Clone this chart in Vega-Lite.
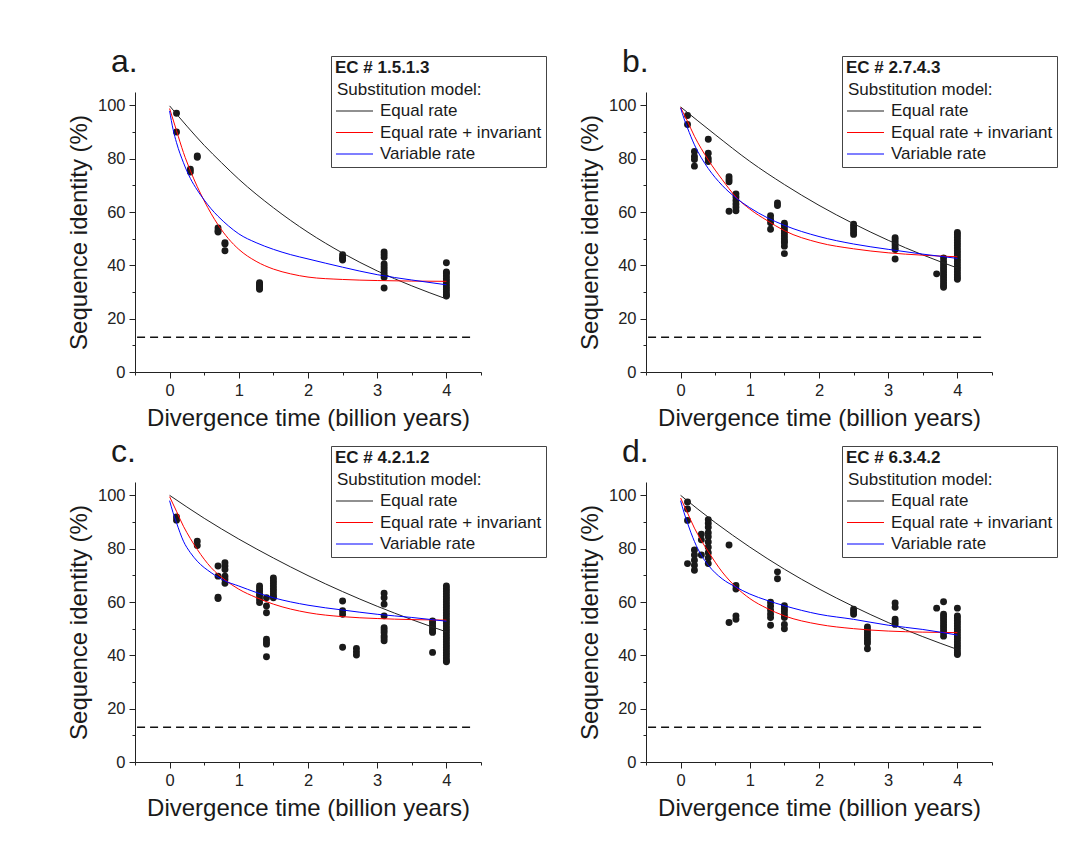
{
  "$schema": "https://vega.github.io/schema/vega-lite/v6.json",
  "padding": {"left": 67, "top": 45, "right": 5, "bottom": 5},
  "background": "white",
  "datasets": {
    "pts": [
      {"p":"a","t":0.1,"s":97},{"p":"a","t":0.1,"s":90},
      {"p":"a","t":0.3,"s":76},{"p":"a","t":0.3,"s":75},
      {"p":"a","t":0.4,"s":81},{"p":"a","t":0.4,"s":80.5},
      {"p":"a","t":0.7,"s":54},{"p":"a","t":0.7,"s":53},{"p":"a","t":0.7,"s":52.5},
      {"p":"a","t":0.8,"s":48.5},{"p":"a","t":0.8,"s":48},{"p":"a","t":0.8,"s":45.5},
      {"p":"a","t":1.3,"s":33.5},{"p":"a","t":1.3,"s":33},{"p":"a","t":1.3,"s":32.5},{"p":"a","t":1.3,"s":32},{"p":"a","t":1.3,"s":31.5},{"p":"a","t":1.3,"s":31},
      {"p":"a","t":2.5,"s":44},{"p":"a","t":2.5,"s":43},{"p":"a","t":2.5,"s":42.5},{"p":"a","t":2.5,"s":42},
      {"p":"a","t":3.1,"s":45},{"p":"a","t":3.1,"s":44},{"p":"a","t":3.1,"s":43},{"p":"a","t":3.1,"s":40.5},{"p":"a","t":3.1,"s":39.5},{"p":"a","t":3.1,"s":38.5},{"p":"a","t":3.1,"s":37.5},{"p":"a","t":3.1,"s":36.5},{"p":"a","t":3.1,"s":35.5},{"p":"a","t":3.1,"s":31.5},
      {"p":"a","t":4,"s":41},{"p":"a","t":4,"s":37.5},{"p":"a","t":4,"s":37},{"p":"a","t":4,"s":36},{"p":"a","t":4,"s":35},{"p":"a","t":4,"s":34},{"p":"a","t":4,"s":33},{"p":"a","t":4,"s":32},{"p":"a","t":4,"s":31},{"p":"a","t":4,"s":30},{"p":"a","t":4,"s":29},{"p":"a","t":4,"s":28.5},

      {"p":"b","t":0.1,"s":96.2},{"p":"b","t":0.1,"s":92.8},
      {"p":"b","t":0.2,"s":82.7},{"p":"b","t":0.2,"s":80.8},{"p":"b","t":0.2,"s":79.7},{"p":"b","t":0.2,"s":77.2},
      {"p":"b","t":0.4,"s":87.3},{"p":"b","t":0.4,"s":82},{"p":"b","t":0.4,"s":80.1},{"p":"b","t":0.4,"s":78.9},
      {"p":"b","t":0.7,"s":73.2},{"p":"b","t":0.7,"s":72.2},{"p":"b","t":0.7,"s":71.3},{"p":"b","t":0.7,"s":60.3},
      {"p":"b","t":0.8,"s":66.8},{"p":"b","t":0.8,"s":65.6},{"p":"b","t":0.8,"s":64.3},{"p":"b","t":0.8,"s":63},{"p":"b","t":0.8,"s":61.8},{"p":"b","t":0.8,"s":60.5},
      {"p":"b","t":1.3,"s":58.6},{"p":"b","t":1.3,"s":57.3},{"p":"b","t":1.3,"s":56},{"p":"b","t":1.3,"s":53.5},
      {"p":"b","t":1.4,"s":63.4},{"p":"b","t":1.4,"s":62.4},
      {"p":"b","t":1.5,"s":55.8},{"p":"b","t":1.5,"s":55},{"p":"b","t":1.5,"s":54},{"p":"b","t":1.5,"s":53},{"p":"b","t":1.5,"s":52},{"p":"b","t":1.5,"s":51},{"p":"b","t":1.5,"s":50},{"p":"b","t":1.5,"s":49},{"p":"b","t":1.5,"s":48.5},{"p":"b","t":1.5,"s":47.2},{"p":"b","t":1.5,"s":44.4},
      {"p":"b","t":2.5,"s":55.4},{"p":"b","t":2.5,"s":54.5},{"p":"b","t":2.5,"s":53.5},{"p":"b","t":2.5,"s":52.5},{"p":"b","t":2.5,"s":51.6},
      {"p":"b","t":3.1,"s":50.4},{"p":"b","t":3.1,"s":49.5},{"p":"b","t":3.1,"s":48.5},{"p":"b","t":3.1,"s":47.5},{"p":"b","t":3.1,"s":46.5},{"p":"b","t":3.1,"s":45.9},{"p":"b","t":3.1,"s":42.4},
      {"p":"b","t":3.7,"s":36.8},
      {"p":"b","t":3.8,"s":42.8},{"p":"b","t":3.8,"s":41.5},{"p":"b","t":3.8,"s":40.5},{"p":"b","t":3.8,"s":39.5},{"p":"b","t":3.8,"s":38.5},{"p":"b","t":3.8,"s":37.5},{"p":"b","t":3.8,"s":36.5},{"p":"b","t":3.8,"s":35.5},{"p":"b","t":3.8,"s":34.5},{"p":"b","t":3.8,"s":33.5},{"p":"b","t":3.8,"s":32.5},{"p":"b","t":3.8,"s":31.8},
      {"p":"b","t":4,"s":52.3},{"p":"b","t":4,"s":51.5},{"p":"b","t":4,"s":50.5},{"p":"b","t":4,"s":49.5},{"p":"b","t":4,"s":48.5},{"p":"b","t":4,"s":47.5},{"p":"b","t":4,"s":46.5},{"p":"b","t":4,"s":45.5},{"p":"b","t":4,"s":44.5},{"p":"b","t":4,"s":43.5},{"p":"b","t":4,"s":42.5},{"p":"b","t":4,"s":41.5},{"p":"b","t":4,"s":40.5},{"p":"b","t":4,"s":39.5},{"p":"b","t":4,"s":38.5},{"p":"b","t":4,"s":37.5},{"p":"b","t":4,"s":36.5},{"p":"b","t":4,"s":35.5},{"p":"b","t":4,"s":34.8},

      {"p":"c","t":0.1,"s":91.9},{"p":"c","t":0.1,"s":90.7},
      {"p":"c","t":0.4,"s":82.8},{"p":"c","t":0.4,"s":81.2},
      {"p":"c","t":0.7,"s":73.5},{"p":"c","t":0.7,"s":69.7},{"p":"c","t":0.7,"s":61.8},{"p":"c","t":0.7,"s":61.3},
      {"p":"c","t":0.8,"s":74.7},{"p":"c","t":0.8,"s":73.5},{"p":"c","t":0.8,"s":72.2},{"p":"c","t":0.8,"s":69.7},{"p":"c","t":0.8,"s":68.5},{"p":"c","t":0.8,"s":67},
      {"p":"c","t":1.3,"s":66},{"p":"c","t":1.3,"s":65},{"p":"c","t":1.3,"s":64.1},{"p":"c","t":1.3,"s":63},{"p":"c","t":1.3,"s":62.3},{"p":"c","t":1.3,"s":61},{"p":"c","t":1.3,"s":59.8},
      {"p":"c","t":1.4,"s":61.6},{"p":"c","t":1.4,"s":58.5},{"p":"c","t":1.4,"s":56},{"p":"c","t":1.4,"s":46},{"p":"c","t":1.4,"s":45},{"p":"c","t":1.4,"s":44.2},{"p":"c","t":1.4,"s":39.5},
      {"p":"c","t":1.5,"s":69},{"p":"c","t":1.5,"s":68},{"p":"c","t":1.5,"s":67},{"p":"c","t":1.5,"s":66},{"p":"c","t":1.5,"s":65},{"p":"c","t":1.5,"s":64},{"p":"c","t":1.5,"s":63},{"p":"c","t":1.5,"s":62},{"p":"c","t":1.5,"s":61.6},
      {"p":"c","t":2.5,"s":60.4},{"p":"c","t":2.5,"s":56.7},{"p":"c","t":2.5,"s":55.4},{"p":"c","t":2.5,"s":43},
      {"p":"c","t":2.7,"s":42.6},{"p":"c","t":2.7,"s":41.3},{"p":"c","t":2.7,"s":40.1},
      {"p":"c","t":3.1,"s":63.3},{"p":"c","t":3.1,"s":61.6},{"p":"c","t":3.1,"s":59.2},{"p":"c","t":3.1,"s":54.8},{"p":"c","t":3.1,"s":50.4},{"p":"c","t":3.1,"s":49.5},{"p":"c","t":3.1,"s":48.6},{"p":"c","t":3.1,"s":47.3},{"p":"c","t":3.1,"s":46.5},{"p":"c","t":3.1,"s":45.5},
      {"p":"c","t":3.8,"s":52.9},{"p":"c","t":3.8,"s":52},{"p":"c","t":3.8,"s":51},{"p":"c","t":3.8,"s":50},{"p":"c","t":3.8,"s":49},{"p":"c","t":3.8,"s":48.6},{"p":"c","t":3.8,"s":41.1},
      {"p":"c","t":4,"s":66},{"p":"c","t":4,"s":65},{"p":"c","t":4,"s":64},{"p":"c","t":4,"s":63},{"p":"c","t":4,"s":62},{"p":"c","t":4,"s":61},{"p":"c","t":4,"s":60},{"p":"c","t":4,"s":59},{"p":"c","t":4,"s":58},{"p":"c","t":4,"s":57},{"p":"c","t":4,"s":56},{"p":"c","t":4,"s":55},{"p":"c","t":4,"s":54},{"p":"c","t":4,"s":53},{"p":"c","t":4,"s":52},{"p":"c","t":4,"s":51},{"p":"c","t":4,"s":50},{"p":"c","t":4,"s":49},{"p":"c","t":4,"s":48},{"p":"c","t":4,"s":47},{"p":"c","t":4,"s":46},{"p":"c","t":4,"s":45},{"p":"c","t":4,"s":44},{"p":"c","t":4,"s":43},{"p":"c","t":4,"s":42},{"p":"c","t":4,"s":41},{"p":"c","t":4,"s":40},{"p":"c","t":4,"s":39},{"p":"c","t":4,"s":38},{"p":"c","t":4,"s":37.6},

      {"p":"d","t":0.1,"s":97.5},{"p":"d","t":0.1,"s":94.9},{"p":"d","t":0.1,"s":90.6},{"p":"d","t":0.1,"s":74.4},
      {"p":"d","t":0.2,"s":79.5},{"p":"d","t":0.2,"s":77.6},{"p":"d","t":0.2,"s":75.7},{"p":"d","t":0.2,"s":73.8},{"p":"d","t":0.2,"s":71.9},
      {"p":"d","t":0.3,"s":85.4},{"p":"d","t":0.3,"s":83.3},{"p":"d","t":0.3,"s":77.6},
      {"p":"d","t":0.4,"s":90.9},{"p":"d","t":0.4,"s":89.5},{"p":"d","t":0.4,"s":88},{"p":"d","t":0.4,"s":86},{"p":"d","t":0.4,"s":84.5},{"p":"d","t":0.4,"s":82.5},{"p":"d","t":0.4,"s":80.5},{"p":"d","t":0.4,"s":78.5},{"p":"d","t":0.4,"s":76.5},{"p":"d","t":0.4,"s":74.4},
      {"p":"d","t":0.7,"s":81.4},{"p":"d","t":0.7,"s":52.3},
      {"p":"d","t":0.8,"s":66.2},{"p":"d","t":0.8,"s":64.9},{"p":"d","t":0.8,"s":54.8},{"p":"d","t":0.8,"s":53.5},
      {"p":"d","t":1.3,"s":59.9},{"p":"d","t":1.3,"s":58.5},{"p":"d","t":1.3,"s":57},{"p":"d","t":1.3,"s":55.5},{"p":"d","t":1.3,"s":54.2},{"p":"d","t":1.3,"s":51.3},
      {"p":"d","t":1.4,"s":71.3},{"p":"d","t":1.4,"s":68.7},
      {"p":"d","t":1.5,"s":58.6},{"p":"d","t":1.5,"s":57.5},{"p":"d","t":1.5,"s":56.5},{"p":"d","t":1.5,"s":55.3},{"p":"d","t":1.5,"s":54.2},{"p":"d","t":1.5,"s":51.6},{"p":"d","t":1.5,"s":50},
      {"p":"d","t":2.5,"s":57.3},{"p":"d","t":2.5,"s":56.3},{"p":"d","t":2.5,"s":55.4},
      {"p":"d","t":2.7,"s":50.6},{"p":"d","t":2.7,"s":49.5},{"p":"d","t":2.7,"s":48.5},{"p":"d","t":2.7,"s":47.5},{"p":"d","t":2.7,"s":46.5},{"p":"d","t":2.7,"s":45.5},{"p":"d","t":2.7,"s":44.5},{"p":"d","t":2.7,"s":42.5},
      {"p":"d","t":3.1,"s":59.6},{"p":"d","t":3.1,"s":58},{"p":"d","t":3.1,"s":53.5},{"p":"d","t":3.1,"s":52.5},{"p":"d","t":3.1,"s":51.6},
      {"p":"d","t":3.7,"s":57.7},
      {"p":"d","t":3.8,"s":60.1},{"p":"d","t":3.8,"s":55.4},{"p":"d","t":3.8,"s":54.5},{"p":"d","t":3.8,"s":53.5},{"p":"d","t":3.8,"s":52.5},{"p":"d","t":3.8,"s":51.5},{"p":"d","t":3.8,"s":50.5},{"p":"d","t":3.8,"s":49.5},{"p":"d","t":3.8,"s":48.5},{"p":"d","t":3.8,"s":47.2},
      {"p":"d","t":4,"s":57.7},{"p":"d","t":4,"s":54.8},{"p":"d","t":4,"s":54},{"p":"d","t":4,"s":53},{"p":"d","t":4,"s":52},{"p":"d","t":4,"s":51},{"p":"d","t":4,"s":50},{"p":"d","t":4,"s":49},{"p":"d","t":4,"s":48},{"p":"d","t":4,"s":47},{"p":"d","t":4,"s":46},{"p":"d","t":4,"s":45},{"p":"d","t":4,"s":44},{"p":"d","t":4,"s":43},{"p":"d","t":4,"s":42},{"p":"d","t":4,"s":41},{"p":"d","t":4,"s":40.3}
    ],
    "curves": [
      {"p":"a","m":"Equal rate","t":0,"s":99.8},{"p":"a","m":"Equal rate","t":0.25,"s":92.2},{"p":"a","m":"Equal rate","t":0.5,"s":85},{"p":"a","m":"Equal rate","t":0.75,"s":78.5},{"p":"a","m":"Equal rate","t":1,"s":72.3},{"p":"a","m":"Equal rate","t":1.5,"s":61.6},{"p":"a","m":"Equal rate","t":2,"s":52.4},{"p":"a","m":"Equal rate","t":2.5,"s":44.6},{"p":"a","m":"Equal rate","t":3,"s":37.9},{"p":"a","m":"Equal rate","t":3.5,"s":32.3},{"p":"a","m":"Equal rate","t":4,"s":27.4},
      {"p":"a","m":"Equal rate + invariant","t":0,"s":98.8},{"p":"a","m":"Equal rate + invariant","t":0.1,"s":90.5},{"p":"a","m":"Equal rate + invariant","t":0.2,"s":82.3},{"p":"a","m":"Equal rate + invariant","t":0.3,"s":75.5},{"p":"a","m":"Equal rate + invariant","t":0.4,"s":69.5},{"p":"a","m":"Equal rate + invariant","t":0.5,"s":64.2},{"p":"a","m":"Equal rate + invariant","t":0.6,"s":59.4},{"p":"a","m":"Equal rate + invariant","t":0.7,"s":55.2},{"p":"a","m":"Equal rate + invariant","t":0.85,"s":50},{"p":"a","m":"Equal rate + invariant","t":1,"s":46},{"p":"a","m":"Equal rate + invariant","t":1.25,"s":41.5},{"p":"a","m":"Equal rate + invariant","t":1.5,"s":38.6},{"p":"a","m":"Equal rate + invariant","t":1.75,"s":36.8},{"p":"a","m":"Equal rate + invariant","t":2,"s":35.6},{"p":"a","m":"Equal rate + invariant","t":2.5,"s":34.7},{"p":"a","m":"Equal rate + invariant","t":3,"s":34.3},{"p":"a","m":"Equal rate + invariant","t":3.5,"s":34.1},{"p":"a","m":"Equal rate + invariant","t":4,"s":34},
      {"p":"a","m":"Variable rate","t":0,"s":97.9},{"p":"a","m":"Variable rate","t":0.05,"s":91},{"p":"a","m":"Variable rate","t":0.1,"s":86},{"p":"a","m":"Variable rate","t":0.2,"s":78.5},{"p":"a","m":"Variable rate","t":0.3,"s":72.6},{"p":"a","m":"Variable rate","t":0.4,"s":68.2},{"p":"a","m":"Variable rate","t":0.5,"s":64.5},{"p":"a","m":"Variable rate","t":0.6,"s":61.2},{"p":"a","m":"Variable rate","t":0.7,"s":58.4},{"p":"a","m":"Variable rate","t":0.85,"s":54.8},{"p":"a","m":"Variable rate","t":1,"s":51.8},{"p":"a","m":"Variable rate","t":1.25,"s":48.5},{"p":"a","m":"Variable rate","t":1.5,"s":46},{"p":"a","m":"Variable rate","t":1.75,"s":44},{"p":"a","m":"Variable rate","t":2,"s":42.4},{"p":"a","m":"Variable rate","t":2.5,"s":39.3},{"p":"a","m":"Variable rate","t":3,"s":36.5},{"p":"a","m":"Variable rate","t":3.5,"s":34.5},{"p":"a","m":"Variable rate","t":4,"s":32.7},

      {"p":"b","m":"Equal rate","t":0,"s":99.4},{"p":"b","m":"Equal rate","t":0.5,"s":89},{"p":"b","m":"Equal rate","t":1,"s":79},{"p":"b","m":"Equal rate","t":1.5,"s":70.3},{"p":"b","m":"Equal rate","t":2,"s":62.5},{"p":"b","m":"Equal rate","t":2.5,"s":55.6},{"p":"b","m":"Equal rate","t":3,"s":49.4},{"p":"b","m":"Equal rate","t":3.5,"s":43.9},{"p":"b","m":"Equal rate","t":4,"s":39},
      {"p":"b","m":"Equal rate + invariant","t":0,"s":99.2},{"p":"b","m":"Equal rate + invariant","t":0.1,"s":94},{"p":"b","m":"Equal rate + invariant","t":0.2,"s":88.4},{"p":"b","m":"Equal rate + invariant","t":0.3,"s":83.7},{"p":"b","m":"Equal rate + invariant","t":0.4,"s":79.5},{"p":"b","m":"Equal rate + invariant","t":0.6,"s":72.2},{"p":"b","m":"Equal rate + invariant","t":0.8,"s":65.6},{"p":"b","m":"Equal rate + invariant","t":1,"s":61.1},{"p":"b","m":"Equal rate + invariant","t":1.25,"s":56.8},{"p":"b","m":"Equal rate + invariant","t":1.5,"s":53},{"p":"b","m":"Equal rate + invariant","t":2,"s":48.5},{"p":"b","m":"Equal rate + invariant","t":2.5,"s":46.2},{"p":"b","m":"Equal rate + invariant","t":3,"s":44.7},{"p":"b","m":"Equal rate + invariant","t":3.5,"s":43.8},{"p":"b","m":"Equal rate + invariant","t":4,"s":43.2},
      {"p":"b","m":"Variable rate","t":0,"s":99},{"p":"b","m":"Variable rate","t":0.05,"s":95},{"p":"b","m":"Variable rate","t":0.1,"s":91.5},{"p":"b","m":"Variable rate","t":0.2,"s":85.2},{"p":"b","m":"Variable rate","t":0.3,"s":80.3},{"p":"b","m":"Variable rate","t":0.4,"s":76.3},{"p":"b","m":"Variable rate","t":0.6,"s":70},{"p":"b","m":"Variable rate","t":0.8,"s":65.3},{"p":"b","m":"Variable rate","t":1,"s":61.6},{"p":"b","m":"Variable rate","t":1.25,"s":57.9},{"p":"b","m":"Variable rate","t":1.5,"s":55},{"p":"b","m":"Variable rate","t":2,"s":50.8},{"p":"b","m":"Variable rate","t":2.5,"s":48},{"p":"b","m":"Variable rate","t":3,"s":46},{"p":"b","m":"Variable rate","t":3.5,"s":44.2},{"p":"b","m":"Variable rate","t":4,"s":42.6},

      {"p":"c","m":"Equal rate","t":0,"s":100},{"p":"c","m":"Equal rate","t":0.5,"s":91.4},{"p":"c","m":"Equal rate","t":1,"s":83.6},{"p":"c","m":"Equal rate","t":1.5,"s":76.5},{"p":"c","m":"Equal rate","t":2,"s":69.9},{"p":"c","m":"Equal rate","t":2.5,"s":63.9},{"p":"c","m":"Equal rate","t":3,"s":58.4},{"p":"c","m":"Equal rate","t":3.5,"s":53.4},{"p":"c","m":"Equal rate","t":4,"s":48.8},
      {"p":"c","m":"Equal rate + invariant","t":0,"s":99.5},{"p":"c","m":"Equal rate + invariant","t":0.1,"s":94},{"p":"c","m":"Equal rate + invariant","t":0.2,"s":88.4},{"p":"c","m":"Equal rate + invariant","t":0.3,"s":83.8},{"p":"c","m":"Equal rate + invariant","t":0.4,"s":79.7},{"p":"c","m":"Equal rate + invariant","t":0.6,"s":72.9},{"p":"c","m":"Equal rate + invariant","t":0.8,"s":68.3},{"p":"c","m":"Equal rate + invariant","t":1,"s":64.8},{"p":"c","m":"Equal rate + invariant","t":1.25,"s":61.7},{"p":"c","m":"Equal rate + invariant","t":1.5,"s":59.2},{"p":"c","m":"Equal rate + invariant","t":2,"s":56},{"p":"c","m":"Equal rate + invariant","t":2.5,"s":54.5},{"p":"c","m":"Equal rate + invariant","t":3,"s":53.8},{"p":"c","m":"Equal rate + invariant","t":3.5,"s":53.4},{"p":"c","m":"Equal rate + invariant","t":4,"s":53.2},
      {"p":"c","m":"Variable rate","t":0,"s":98},{"p":"c","m":"Variable rate","t":0.05,"s":93.5},{"p":"c","m":"Variable rate","t":0.1,"s":89.7},{"p":"c","m":"Variable rate","t":0.2,"s":82.8},{"p":"c","m":"Variable rate","t":0.3,"s":78.5},{"p":"c","m":"Variable rate","t":0.4,"s":75.3},{"p":"c","m":"Variable rate","t":0.6,"s":71},{"p":"c","m":"Variable rate","t":0.8,"s":67.9},{"p":"c","m":"Variable rate","t":1,"s":66},{"p":"c","m":"Variable rate","t":1.25,"s":63.6},{"p":"c","m":"Variable rate","t":1.5,"s":61.6},{"p":"c","m":"Variable rate","t":2,"s":58.8},{"p":"c","m":"Variable rate","t":2.5,"s":57},{"p":"c","m":"Variable rate","t":3,"s":55.4},{"p":"c","m":"Variable rate","t":3.5,"s":54.2},{"p":"c","m":"Variable rate","t":4,"s":52.8},

      {"p":"d","m":"Equal rate","t":0,"s":100},{"p":"d","m":"Equal rate","t":0.5,"s":89.8},{"p":"d","m":"Equal rate","t":1,"s":80.6},{"p":"d","m":"Equal rate","t":1.5,"s":72.3},{"p":"d","m":"Equal rate","t":2,"s":64.9},{"p":"d","m":"Equal rate","t":2.5,"s":58.3},{"p":"d","m":"Equal rate","t":3,"s":52.3},{"p":"d","m":"Equal rate","t":3.5,"s":47},{"p":"d","m":"Equal rate","t":4,"s":42.2},
      {"p":"d","m":"Equal rate + invariant","t":0,"s":99},{"p":"d","m":"Equal rate + invariant","t":0.1,"s":93.4},{"p":"d","m":"Equal rate + invariant","t":0.2,"s":87.7},{"p":"d","m":"Equal rate + invariant","t":0.3,"s":83},{"p":"d","m":"Equal rate + invariant","t":0.4,"s":78.9},{"p":"d","m":"Equal rate + invariant","t":0.6,"s":71.3},{"p":"d","m":"Equal rate + invariant","t":0.8,"s":65.6},{"p":"d","m":"Equal rate + invariant","t":1,"s":61.3},{"p":"d","m":"Equal rate + invariant","t":1.25,"s":57.6},{"p":"d","m":"Equal rate + invariant","t":1.5,"s":54.8},{"p":"d","m":"Equal rate + invariant","t":2,"s":51.6},{"p":"d","m":"Equal rate + invariant","t":2.5,"s":50},{"p":"d","m":"Equal rate + invariant","t":3,"s":49.1},{"p":"d","m":"Equal rate + invariant","t":3.5,"s":48.7},{"p":"d","m":"Equal rate + invariant","t":4,"s":48.5},
      {"p":"d","m":"Variable rate","t":0,"s":98},{"p":"d","m":"Variable rate","t":0.05,"s":93.5},{"p":"d","m":"Variable rate","t":0.1,"s":89.6},{"p":"d","m":"Variable rate","t":0.2,"s":82.7},{"p":"d","m":"Variable rate","t":0.3,"s":77.5},{"p":"d","m":"Variable rate","t":0.4,"s":73.8},{"p":"d","m":"Variable rate","t":0.6,"s":68.7},{"p":"d","m":"Variable rate","t":0.8,"s":65.6},{"p":"d","m":"Variable rate","t":1,"s":63},{"p":"d","m":"Variable rate","t":1.25,"s":60.6},{"p":"d","m":"Variable rate","t":1.5,"s":58.6},{"p":"d","m":"Variable rate","t":2,"s":55.4},{"p":"d","m":"Variable rate","t":2.5,"s":53.5},{"p":"d","m":"Variable rate","t":3,"s":51.3},{"p":"d","m":"Variable rate","t":3.5,"s":49.7},{"p":"d","m":"Variable rate","t":4,"s":47.6}
    ],
    "ref": [
      {"p":"a","t":-0.47,"s":13},{"p":"a","t":4.35,"s":13},
      {"p":"b","t":-0.47,"s":13},{"p":"b","t":4.35,"s":13},
      {"p":"c","t":-0.47,"s":13},{"p":"c","t":4.35,"s":13},
      {"p":"d","t":-0.47,"s":13},{"p":"d","t":4.35,"s":13}
    ]
  },
  "columns": 2,
  "spacing": {"row": 4, "column": 31},
  "resolve": {"scale": {"stroke": "independent"}, "legend": {"stroke": "independent"}},
  "concat": [
    {
      "title": {"text": "a."},
      "width": 346, "height": 280,
      "encoding": {
        "x": {"field": "t", "type": "quantitative", "title": "Divergence time (billion years)", "scale": {"domain": [-0.5, 4.5], "nice": false, "zero": false},
              "axis": {"values": [-0.5,0,0.5,1,1.5,2,2.5,3,3.5,4,4.5], "format": "~g", "labelExpr": "datum.value % 1 === 0 ? datum.label : ''", "tickSize": {"condition": {"test": "datum.value % 1 === 0", "value": 6}, "value": 3}}},
        "y": {"field": "s", "type": "quantitative", "title": "Sequence identity (%)", "scale": {"domain": [0, 105], "nice": false, "zero": false},
              "axis": {"values": [0,10,20,30,40,50,60,70,80,90,100], "labelExpr": "datum.value % 20 === 0 ? datum.label : ''", "tickSize": {"condition": {"test": "datum.value % 20 === 0", "value": 6}, "value": 3}}}
      },
      "layer": [
        {"data": {"name": "ref"}, "transform": [{"filter": "datum.p === 'a'"}], "mark": {"type": "line", "color": "#111", "strokeWidth": 1.5, "strokeDash": [8, 5]}},
        {"data": {"name": "pts"}, "transform": [{"filter": "datum.p === 'a'"}], "mark": {"type": "circle", "size": 48, "color": "#1a1a1a", "opacity": 1}},
        {"data": {"name": "curves"}, "transform": [{"filter": "datum.p === 'a'"}], "mark": {"type": "line", "strokeWidth": 1, "interpolate": "monotone"},
         "encoding": {"stroke": {"field": "m", "type": "nominal",
           "scale": {"domain": ["Substitution model:", "Equal rate", "Equal rate + invariant", "Variable rate"], "range": ["transparent", "#222222", "#ff0000", "#0000ff"]},
           "legend": {"title": "EC # 1.5.1.3", "encode": {"labels": {"update": {"dx": {"signal": "datum.label === 'Substitution model:' ? -43 : 0"}}}}}}}}
      ]
    },
    {
      "title": {"text": "b."},
      "width": 346, "height": 280,
      "encoding": {
        "x": {"field": "t", "type": "quantitative", "title": "Divergence time (billion years)", "scale": {"domain": [-0.5, 4.5], "nice": false, "zero": false},
              "axis": {"values": [-0.5,0,0.5,1,1.5,2,2.5,3,3.5,4,4.5], "format": "~g", "labelExpr": "datum.value % 1 === 0 ? datum.label : ''", "tickSize": {"condition": {"test": "datum.value % 1 === 0", "value": 6}, "value": 3}}},
        "y": {"field": "s", "type": "quantitative", "title": "Sequence identity (%)", "scale": {"domain": [0, 105], "nice": false, "zero": false},
              "axis": {"values": [0,10,20,30,40,50,60,70,80,90,100], "labelExpr": "datum.value % 20 === 0 ? datum.label : ''", "tickSize": {"condition": {"test": "datum.value % 20 === 0", "value": 6}, "value": 3}}}
      },
      "layer": [
        {"data": {"name": "ref"}, "transform": [{"filter": "datum.p === 'b'"}], "mark": {"type": "line", "color": "#111", "strokeWidth": 1.5, "strokeDash": [8, 5]}},
        {"data": {"name": "pts"}, "transform": [{"filter": "datum.p === 'b'"}], "mark": {"type": "circle", "size": 48, "color": "#1a1a1a", "opacity": 1}},
        {"data": {"name": "curves"}, "transform": [{"filter": "datum.p === 'b'"}], "mark": {"type": "line", "strokeWidth": 1, "interpolate": "monotone"},
         "encoding": {"stroke": {"field": "m", "type": "nominal",
           "scale": {"domain": ["Substitution model:", "Equal rate", "Equal rate + invariant", "Variable rate"], "range": ["transparent", "#222222", "#ff0000", "#0000ff"]},
           "legend": {"title": "EC # 2.7.4.3", "encode": {"labels": {"update": {"dx": {"signal": "datum.label === 'Substitution model:' ? -43 : 0"}}}}}}}}
      ]
    },
    {
      "title": {"text": "c."},
      "width": 346, "height": 280,
      "encoding": {
        "x": {"field": "t", "type": "quantitative", "title": "Divergence time (billion years)", "scale": {"domain": [-0.5, 4.5], "nice": false, "zero": false},
              "axis": {"values": [-0.5,0,0.5,1,1.5,2,2.5,3,3.5,4,4.5], "format": "~g", "labelExpr": "datum.value % 1 === 0 ? datum.label : ''", "tickSize": {"condition": {"test": "datum.value % 1 === 0", "value": 6}, "value": 3}}},
        "y": {"field": "s", "type": "quantitative", "title": "Sequence identity (%)", "scale": {"domain": [0, 105], "nice": false, "zero": false},
              "axis": {"values": [0,10,20,30,40,50,60,70,80,90,100], "labelExpr": "datum.value % 20 === 0 ? datum.label : ''", "tickSize": {"condition": {"test": "datum.value % 20 === 0", "value": 6}, "value": 3}}}
      },
      "layer": [
        {"data": {"name": "ref"}, "transform": [{"filter": "datum.p === 'c'"}], "mark": {"type": "line", "color": "#111", "strokeWidth": 1.5, "strokeDash": [8, 5]}},
        {"data": {"name": "pts"}, "transform": [{"filter": "datum.p === 'c'"}], "mark": {"type": "circle", "size": 48, "color": "#1a1a1a", "opacity": 1}},
        {"data": {"name": "curves"}, "transform": [{"filter": "datum.p === 'c'"}], "mark": {"type": "line", "strokeWidth": 1, "interpolate": "monotone"},
         "encoding": {"stroke": {"field": "m", "type": "nominal",
           "scale": {"domain": ["Substitution model:", "Equal rate", "Equal rate + invariant", "Variable rate"], "range": ["transparent", "#222222", "#ff0000", "#0000ff"]},
           "legend": {"title": "EC # 4.2.1.2", "encode": {"labels": {"update": {"dx": {"signal": "datum.label === 'Substitution model:' ? -43 : 0"}}}}}}}}
      ]
    },
    {
      "title": {"text": "d."},
      "width": 346, "height": 280,
      "encoding": {
        "x": {"field": "t", "type": "quantitative", "title": "Divergence time (billion years)", "scale": {"domain": [-0.5, 4.5], "nice": false, "zero": false},
              "axis": {"values": [-0.5,0,0.5,1,1.5,2,2.5,3,3.5,4,4.5], "format": "~g", "labelExpr": "datum.value % 1 === 0 ? datum.label : ''", "tickSize": {"condition": {"test": "datum.value % 1 === 0", "value": 6}, "value": 3}}},
        "y": {"field": "s", "type": "quantitative", "title": "Sequence identity (%)", "scale": {"domain": [0, 105], "nice": false, "zero": false},
              "axis": {"values": [0,10,20,30,40,50,60,70,80,90,100], "labelExpr": "datum.value % 20 === 0 ? datum.label : ''", "tickSize": {"condition": {"test": "datum.value % 20 === 0", "value": 6}, "value": 3}}}
      },
      "layer": [
        {"data": {"name": "ref"}, "transform": [{"filter": "datum.p === 'd'"}], "mark": {"type": "line", "color": "#111", "strokeWidth": 1.5, "strokeDash": [8, 5]}},
        {"data": {"name": "pts"}, "transform": [{"filter": "datum.p === 'd'"}], "mark": {"type": "circle", "size": 48, "color": "#1a1a1a", "opacity": 1}},
        {"data": {"name": "curves"}, "transform": [{"filter": "datum.p === 'd'"}], "mark": {"type": "line", "strokeWidth": 1, "interpolate": "monotone"},
         "encoding": {"stroke": {"field": "m", "type": "nominal",
           "scale": {"domain": ["Substitution model:", "Equal rate", "Equal rate + invariant", "Variable rate"], "range": ["transparent", "#222222", "#ff0000", "#0000ff"]},
           "legend": {"title": "EC # 6.3.4.2", "encode": {"labels": {"update": {"dx": {"signal": "datum.label === 'Substitution model:' ? -43 : 0"}}}}}}}}
      ]
    }
  ],
  "config": {
    "font": "Liberation Sans",
    "view": {"stroke": null},
    "title": {"anchor": "start", "frame": "group", "fontSize": 32, "fontWeight": "normal", "color": "#1a1a1a", "baseline": "alphabetic", "offset": -23, "dx": -24, "font": "Liberation Sans"},
    "axis": {"grid": false, "domainColor": "#222222", "tickColor": "#222222", "labelColor": "#222222", "titleColor": "#1a1a1a",
             "labelFont": "Liberation Sans", "titleFont": "Liberation Sans", "labelFontSize": 16.5, "titleFontSize": 24, "titleFontWeight": "normal",
             "domainWidth": 1, "tickWidth": 1, "labelPadding": 4},
    "axisX": {"titlePadding": 8},
    "axisY": {"titlePadding": 6},
    "legend": {"orient": "none", "legendX": 196, "legendY": -36, "symbolType": "stroke", "symbolSize": 1369, "symbolStrokeWidth": 1.2,
               "clipHeight": 17, "labelFontSize": 17, "labelFont": "Liberation Sans", "labelColor": "#1a1a1a", "labelLimit": 300,
               "titleFontSize": 17, "titleFont": "Liberation Sans", "titleFontWeight": "bold", "titleColor": "#1a1a1a", "titlePadding": 4,
               "rowPadding": 3.5, "labelOffset": 6, "padding": 4, "strokeColor": "#444444", "fillColor": "white"}
  }
}
